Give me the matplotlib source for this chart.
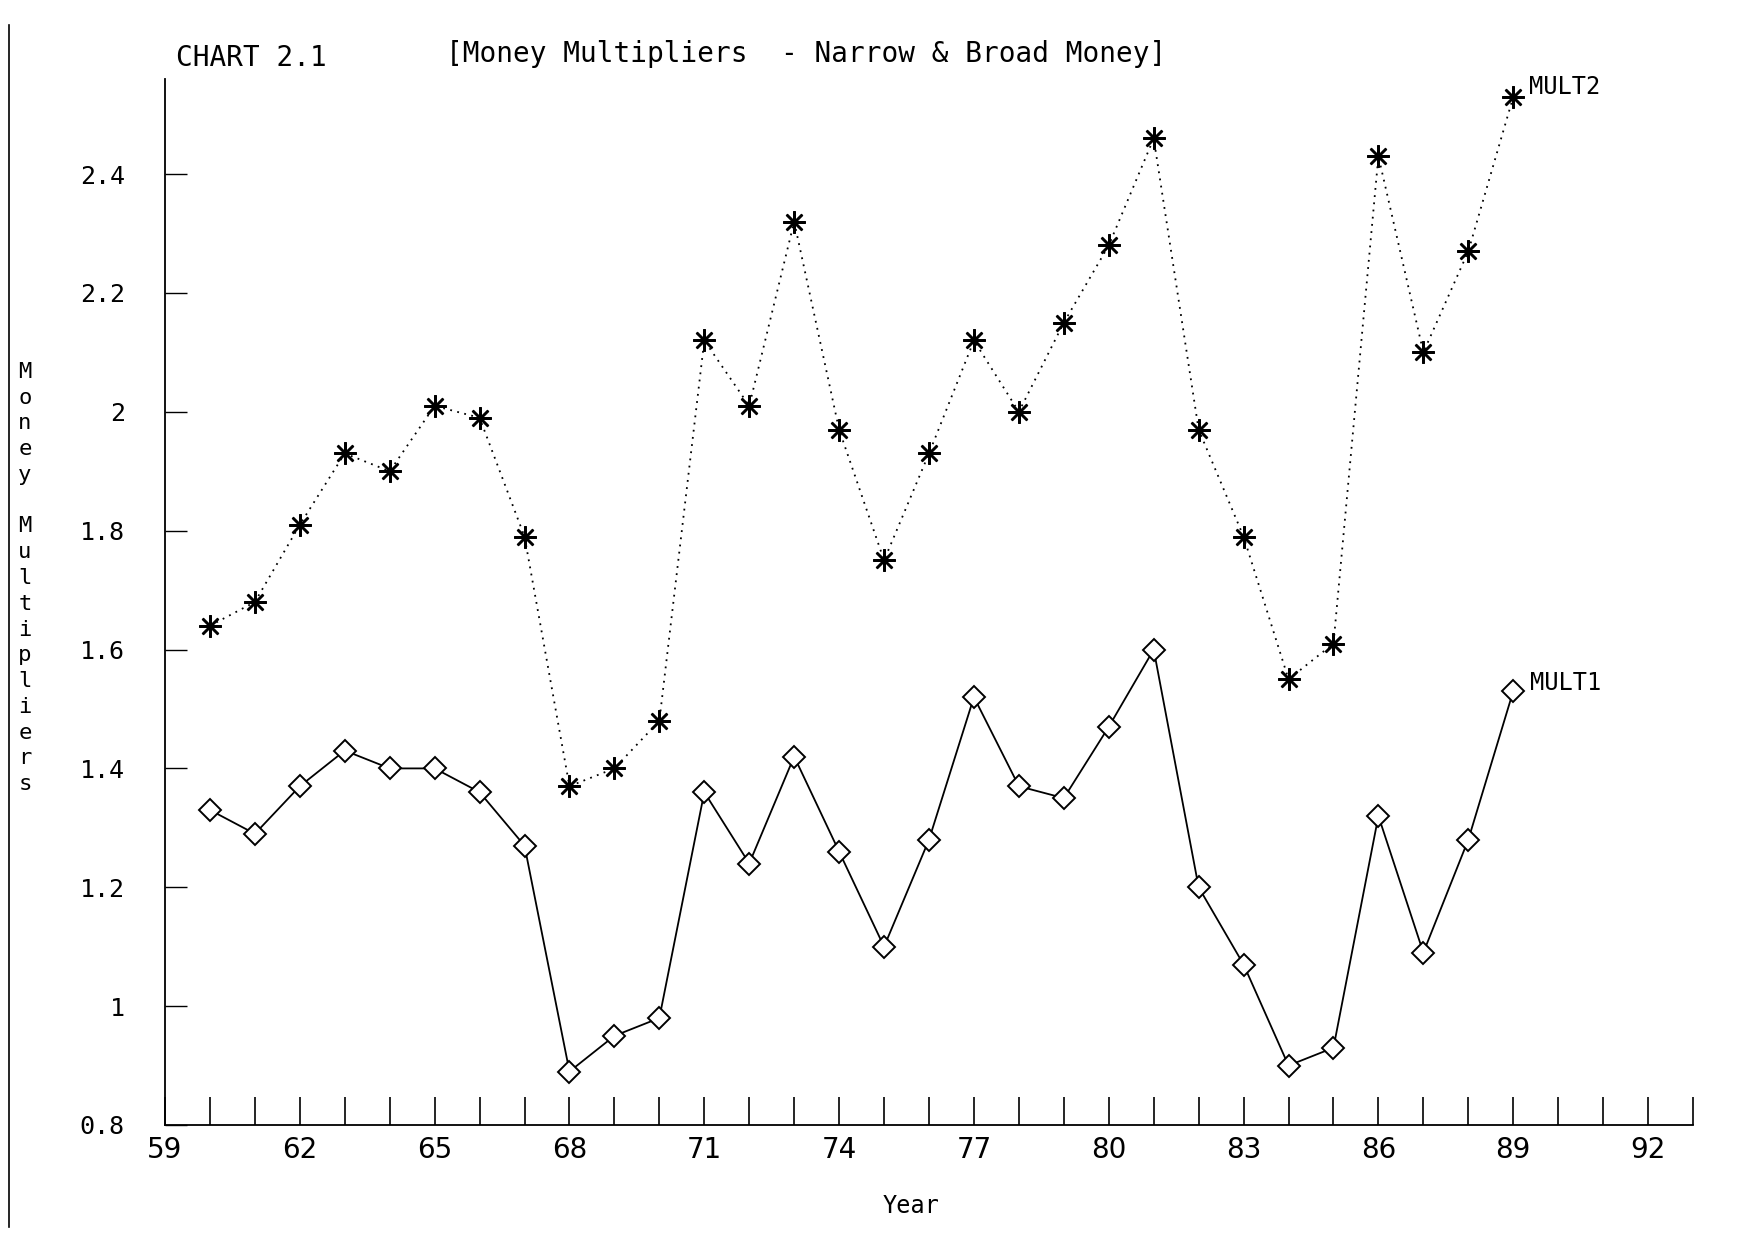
import matplotlib.pyplot as plt
import numpy as np
from matplotlib.lines import Line2D

years = list(range(60, 90))

mult1 = [
    1.33, 1.29, 1.37, 1.43, 1.40, 1.40, 1.36, 1.27, 0.89, 0.95,
    0.98, 1.36, 1.24, 1.42, 1.26, 1.10, 1.28, 1.52, 1.37, 1.35,
    1.47, 1.60, 1.20, 1.07, 0.90, 0.93, 1.32, 1.09, 1.28, 1.53,
]

mult2 = [
    1.64, 1.68, 1.81, 1.93, 1.90, 2.01, 1.99, 1.79, 1.37, 1.40,
    1.48, 2.12, 2.01, 2.32, 1.97, 1.75, 1.93, 2.12, 2.00, 2.15,
    2.28, 2.46, 1.97, 1.79, 1.55, 1.61, 2.43, 2.10, 2.27, 2.53,
]

xticks = list(range(59, 94))
xticklabels = [str(y) if (y - 59) % 3 == 0 else "" for y in xticks]
yticks = [0.8, 1.0, 1.2, 1.4, 1.6, 1.8, 2.0, 2.2, 2.4]
yticklabels = ["0.8", "1", "1.2", "1.4", "1.6", "1.8", "2", "2.2", "2.4"]

mono = "DejaVu Sans Mono"

fig = plt.figure(figsize=(17.64, 12.39), dpi=100)
ax = fig.add_axes([165 / 1764, 1 - 1125 / 1239, (1693 - 165) / 1764, (1125 - 79) / 1239])

ax.plot(years, mult2, color="black", linestyle=(0, (1, 3)), linewidth=1.3,
        marker=(8, 2, 0), markersize=16, markeredgewidth=1.8)
ax.plot(years, mult1, color="black", linestyle="-", linewidth=1.3,
        marker="D", markersize=11, markerfacecolor="white", markeredgewidth=1.4)

ax.annotate("MULT2", xy=(years[-1], mult2[-1]), xytext=(11, 7),
            textcoords="offset points", fontsize=17, va="center", ha="left",
            family=mono)
ax.annotate("MULT1", xy=(years[-1], mult1[-1]), xytext=(12, 6),
            textcoords="offset points", fontsize=17, va="center", ha="left",
            family=mono)

ax.set_xlim(59, 93)
ax.set_ylim(0.8, 2.56)
ax.set_xticks(xticks)
ax.set_xticklabels(xticklabels)
ax.set_yticks(yticks)
ax.set_yticklabels(yticklabels, family=mono)
ax.tick_params(axis="x", direction="in", length=20, width=1.2, labelsize=20, pad=8)
ax.tick_params(axis="y", direction="in", length=16, width=1.0, labelsize=18, pad=29)

for side in ["top", "right"]:
    ax.spines[side].set_visible(False)
for side in ["left", "bottom"]:
    ax.spines[side].set_linewidth(1.3)

ax.set_xlabel("Year", fontsize=17, family=mono)
ax.xaxis.set_label_coords(0.488, -0.066)

# stacked vertical y label
fig.text(25 / 1764, 1 - 578 / 1239, "\n".join("Money Multipliers"),
         fontsize=16, ha="center", va="center", linespacing=1.36, family=mono)

fig.text(176 / 1764, 1 - 58 / 1239, "CHART 2.1", fontsize=20, ha="left",
         va="center", family=mono)
fig.text(446 / 1764, 1 - 54 / 1239, "[Money Multipliers  - Narrow & Broad Money]",
         fontsize=20, ha="left", va="center", family=mono)

# page border line on the left
fig.add_artist(Line2D([9 / 1764, 9 / 1764], [0.01, 0.98], color="black", linewidth=1.2))

plt.savefig("out.png", dpi=100)
